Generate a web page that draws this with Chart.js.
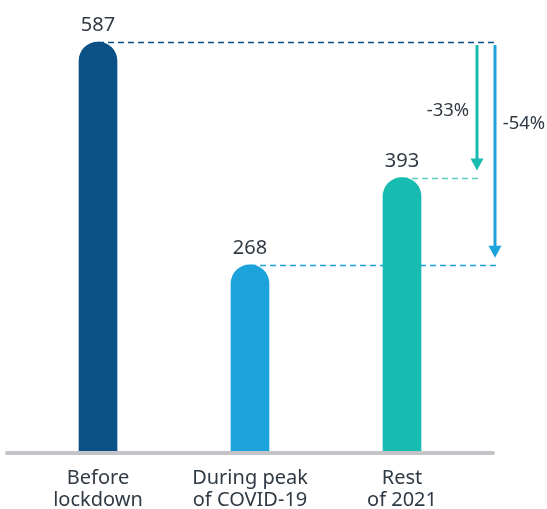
<!DOCTYPE html>
<html>
<head>
<meta charset="utf-8">
<script src="https://cdn.jsdelivr.net/npm/chart.js@4.4.1/dist/chart.umd.min.js"></script>
<style>
  html, body { margin: 0; padding: 0; background: #fff; }
  #wrap { width: 547px; height: 509px; position: relative; }
</style>
</head>
<body>
<div id="wrap"><canvas id="chart"></canvas></div>
<script>
// dữ liệu
const categories = [['Before', 'lockdown'], ['During peak', 'of COVID-19'], ['Rest', 'of 2021']];
const values = [587, 268, 393];
const barColors = ['#0b5185', '#1ca3dc', '#17bbb0'];
const lineColors = ['#0b5185', '#1ca3dc', '#5fcdc6'];

const TEXT = '#2f3a44';
const FONT = '"Noto Sans", "Open Sans", sans-serif';

// vẽ trục đáy, đường nét đứt, mũi tên và nhãn %
const decorPlugin = {
  id: 'decor',
  beforeDatasetsDraw(chart) {
    const ctx = chart.ctx;
    const x = chart.scales.x, y = chart.scales.y;
    const area = chart.chartArea;
    ctx.save();
    ctx.lineWidth = 1.3;
    ctx.setLineDash([6, 4]);
    values.forEach((v, i) => {
      const py = Math.round(y.getPixelForValue(v)) + 0.5;
      let endX = area.right + 19;
      if (i === 2) endX = area.right;
      ctx.strokeStyle = lineColors[i];
      ctx.beginPath();
      ctx.moveTo(x.getPixelForValue(i), py);
      ctx.lineTo(endX, py);
      ctx.stroke();
    });
    ctx.restore();
  },
  afterDatasetsDraw(chart) {
    const ctx = chart.ctx;
    const x = chart.scales.x, y = chart.scales.y;
    const area = chart.chartArea;
    ctx.save();

    // trục đáy màu xám
    ctx.strokeStyle = '#c3c3c8';
    ctx.lineWidth = 4;
    ctx.lineCap = 'round';
    ctx.beginPath();
    ctx.moveTo(area.left - 15, area.bottom + 1);
    ctx.lineTo(area.right + 15, area.bottom + 1);
    ctx.stroke();

    // số trên đầu cột
    ctx.fillStyle = TEXT;
    ctx.font = '20px ' + FONT;
    ctx.textAlign = 'center';
    ctx.textBaseline = 'alphabetic';
    values.forEach((v, i) => {
      ctx.fillText(String(v), x.getPixelForValue(i), y.getPixelForValue(v) - 11);
    });

    // mũi tên thay đổi so với trước lockdown
    const base = values[0];
    const arrows = [
      { to: values[2], color: barColors[2], ax: area.right - 1, labelSide: -1, frac: 0.52 },
      { to: values[1], color: barColors[1], ax: area.right + 17, labelSide: 1, frac: 0.37 }
    ];
    arrows.forEach(a => {
      const top = y.getPixelForValue(base) + 3;
      const tip = y.getPixelForValue(a.to) - 7;
      ctx.strokeStyle = a.color;
      ctx.fillStyle = a.color;
      ctx.lineWidth = 3;
      ctx.lineCap = 'butt';
      ctx.beginPath();
      ctx.moveTo(a.ax, top);
      ctx.lineTo(a.ax, tip - 10);
      ctx.stroke();
      ctx.beginPath();
      ctx.moveTo(a.ax - 6.5, tip - 12);
      ctx.lineTo(a.ax + 6.5, tip - 12);
      ctx.lineTo(a.ax, tip);
      ctx.closePath();
      ctx.fill();

      const pct = Math.round((a.to - base) / base * 100);
      ctx.fillStyle = TEXT;
      ctx.font = '18.5px ' + FONT;
      ctx.textAlign = 'center';
      ctx.textBaseline = 'middle';
      const ly = top + (tip - top) * a.frac;
      ctx.fillText(pct + '%', a.ax + a.labelSide * 29, ly);
    });
    ctx.restore();
  }
};

new Chart(document.getElementById('chart'), {
  type: 'bar',
  data: {
    labels: categories,
    datasets: [{
      data: values,
      backgroundColor: barColors,
      barThickness: 38,
      borderRadius: { topLeft: 19, topRight: 19, bottomLeft: 0, bottomRight: 0 },
      borderSkipped: 'bottom'
    }]
  },
  options: {
    responsive: true,
    maintainAspectRatio: false,
    animation: false,
    layout: { padding: { top: 12, left: 22, right: 69, bottom: 0 } },
    plugins: { legend: { display: false }, tooltip: { enabled: false } },
    scales: {
      x: {
        grid: { display: false },
        border: { display: false },
        ticks: {
          color: TEXT,
          padding: 7,
          font: { size: 20, family: FONT, lineHeight: '22px' }
        },
        afterFit(scale) { scale.height = 57; }
      },
      y: {
        display: false,
        min: 0,
        max: 630
      }
    }
  },
  plugins: [decorPlugin]
});
</script>
</body>
</html>
